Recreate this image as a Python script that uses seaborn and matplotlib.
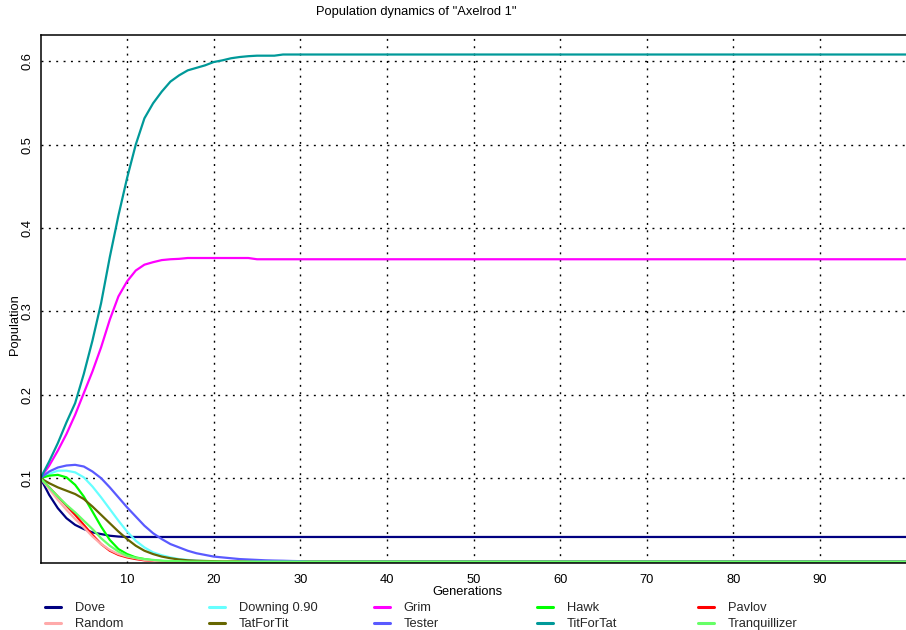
import numpy as np
import pandas as pd
import seaborn as sns
import matplotlib.pyplot as plt
from matplotlib.lines import Line2D

# strategies and colours
strategies = ["Dove", "Downing 0.90", "Grim", "Hawk", "Pavlov",
              "Random", "TatForTit", "Tester", "TitForTat", "Tranquillizer"]
colors = ["#000080", "#66ffff", "#ff00ff", "#00ff00", "#ff0000",
          "#ffaaaa", "#666600", "#5a5aff", "#009999", "#66ff66"]

# population shares, generations 0.. (then the plateau value)
dove = [0.1, 0.08, 0.064, 0.052, 0.044, 0.039, 0.035, 0.033, 0.031, 0.030]
dove_end = 0.0295
downing = [0.1, 0.105, 0.109, 0.109, 0.107, 0.101, 0.09, 0.077, 0.063, 0.049,
           0.036, 0.025, 0.017, 0.011, 0.0076, 0.005, 0.003, 0.002, 0.001, 0.0007, 0.0005]
downing_end = 0.0
grim = [0.1, 0.115, 0.133, 0.153, 0.176, 0.202, 0.228, 0.257, 0.29, 0.318,
        0.336, 0.349, 0.356, 0.359, 0.3615, 0.3625, 0.363, 0.364, 0.364, 0.364,
        0.364, 0.364, 0.364, 0.364, 0.364]
grim_end = 0.3625
hawk = [0.1, 0.103, 0.104, 0.101, 0.092, 0.078, 0.06, 0.042, 0.026, 0.015,
        0.009, 0.005, 0.003, 0.0015, 0.0008]
hawk_end = 0.0
pavlov = [0.1, 0.089, 0.078, 0.067, 0.056, 0.044, 0.032, 0.021, 0.013, 0.008,
          0.005, 0.003, 0.0015, 0.0008]
pavlov_end = 0.0
random_ = [0.1, 0.087, 0.074, 0.062, 0.051, 0.041, 0.03, 0.021, 0.014, 0.009,
           0.006, 0.004, 0.002, 0.001]
random_end = 0.0
tatfortit = [0.1, 0.094, 0.089, 0.085, 0.081, 0.075, 0.066, 0.056, 0.046, 0.036,
             0.027, 0.019, 0.013, 0.009, 0.006, 0.004, 0.0025, 0.0015, 0.001, 0.0007, 0.0005]
tatfortit_end = 0.0
tester = [0.1, 0.108, 0.1128, 0.1152, 0.116, 0.114, 0.108, 0.1, 0.089, 0.077,
          0.065, 0.054, 0.043, 0.034, 0.027, 0.021, 0.017, 0.013, 0.010, 0.008,
          0.006, 0.005, 0.004, 0.003, 0.0025, 0.002, 0.0015, 0.0012, 0.001, 0.0007, 0.0005]
tester_end = 0.0
titfortat = [0.1, 0.12, 0.142, 0.167, 0.19, 0.225, 0.265, 0.31, 0.365, 0.415,
             0.46, 0.5, 0.5315, 0.5495, 0.5635, 0.5755, 0.583, 0.589, 0.592, 0.595,
             0.599, 0.601, 0.6035, 0.605, 0.606, 0.6066, 0.6066, 0.6066]
titfortat_end = 0.608
tranquillizer = [0.1, 0.089, 0.078, 0.068, 0.059, 0.049, 0.039, 0.028, 0.019, 0.012,
                 0.007, 0.0045, 0.003, 0.002, 0.001, 0.0007, 0.0005]
tranquillizer_end = 0.0

n_gen = 101
series = {
    "Dove": (dove, dove_end),
    "Downing 0.90": (downing, downing_end),
    "Grim": (grim, grim_end),
    "Hawk": (hawk, hawk_end),
    "Pavlov": (pavlov, pavlov_end),
    "Random": (random_, random_end),
    "TatForTit": (tatfortit, tatfortit_end),
    "Tester": (tester, tester_end),
    "TitForTat": (titfortat, titfortat_end),
    "Tranquillizer": (tranquillizer, tranquillizer_end),
}

rows = []
for name, (vals, end) in series.items():
    full = list(vals) + [end] * (n_gen - len(vals))
    for g, v in enumerate(full):
        rows.append({"Generation": g, "Population": v, "Strategy": name})
df = pd.DataFrame(rows)

sns.set_theme(style="white")
plt.rcParams['font.family'] = ['Liberation Sans', 'DejaVu Sans']
fs = 9.3

W, H = 906, 630
fig = plt.figure(figsize=(W / 100, H / 100), dpi=100)
ax = fig.add_axes([40.5 / W, 1 - 563 / H, (906.5 - 40.5) / W, (563 - 35) / H])

palette = dict(zip(strategies, colors))
sns.lineplot(data=df, x="Generation", y="Population", hue="Strategy",
             hue_order=strategies, palette=palette, linewidth=1.6,
             legend=False, ax=ax)

ax.set_xlim(0, 100)
ax.set_ylim(-0.0017, 0.6314)
ax.set_xticks(np.arange(10, 100, 10))
ax.set_yticks([0.1, 0.2, 0.3, 0.4, 0.5, 0.6])
ax.set_yticklabels(["0.1", "0.2", "0.3", "0.4", "0.5", "0.6"], rotation=90, va="center")
ax.tick_params(axis="both", length=0, labelsize=fs, colors="black")
ax.tick_params(axis="x", pad=8)
ax.tick_params(axis="y", pad=5)
ax.grid(True, color="black", linestyle=(0, (1.4, 3.9)), linewidth=1.0)

for side in ["left", "top", "bottom"]:
    ax.spines[side].set_color("black")
    ax.spines[side].set_linewidth(1.1)
ax.spines["right"].set_visible(False)

ax.set_xlabel("Generations", fontsize=fs, color="black")
ax.xaxis.set_label_coords((467 - 40.5) / 866, -(592 - 563) / 528)
ax.xaxis.label.set_va("center")
ax.set_ylabel("Population", fontsize=fs, color="black")
ax.yaxis.set_label_coords(-(40.5 - 15) / 866, (563 - 325) / 528)
ax.yaxis.label.set_va("center")

fig.text(416 / W, 1 - 12 / H, 'Population dynamics of "Axelrod 1"',
         ha="center", va="center", fontsize=fs, color="black")

# legend: 5 fixed-width columns, 2 rows (row-major order)
col_x = [45, 209, 374, 537, 698]
for c in range(5):
    names = [strategies[c], strategies[c + 5]]
    handles = [Line2D([], [], color=palette[nm], linewidth=2.2) for nm in names]
    fig.legend(handles, names, loc="upper left",
               bbox_to_anchor=(col_x[c] / W, 1 - 602 / H),
               frameon=False, fontsize=fs, borderpad=0, borderaxespad=0,
               handlelength=1.2, handletextpad=1.1, labelspacing=0.33)

fig.savefig("out.png", dpi=100)
